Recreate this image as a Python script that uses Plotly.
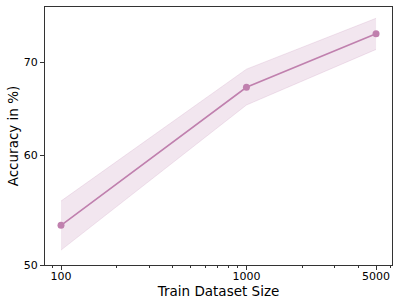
import plotly.graph_objects as go

sizes = [100, 1000, 5000]
acc_mean = [53.4, 67.15, 73.4]
acc_upper = [55.6, 69.2, 75.3]
acc_lower = [51.25, 65.2, 71.5]

x_ticks = [100, 1000, 5000]
x_tick_labels = ["100", "1000", "5000"]
y_ticks = [50, 60, 70]
y_tick_labels = ["50", "60", "70"]

color = "#c080ae"
fill = "rgba(192,128,174,0.2)"
font = "DejaVu Sans"

minor_x = [90] + [m * 100 for m in range(2, 10)] + [m * 1000 for m in range(2, 7) if m != 5]

fig = go.Figure()
fig.add_trace(go.Scatter(x=sizes, y=acc_upper, mode="lines", line=dict(width=0.8, color="rgba(192,128,174,0.25)"),
                         showlegend=False, hoverinfo="skip"))
fig.add_trace(go.Scatter(x=sizes, y=acc_lower, mode="lines", line=dict(width=0.8, color="rgba(192,128,174,0.25)"),
                         fill="tonexty", fillcolor=fill, showlegend=False, hoverinfo="skip"))
fig.add_trace(go.Scatter(x=sizes, y=acc_mean, mode="lines+markers",
                         line=dict(color=color, width=1.6),
                         marker=dict(color=color, size=7), showlegend=False))

fig.update_layout(
    width=399, height=307,
    margin=dict(l=45, r=7, t=7, b=42),
    paper_bgcolor="white", plot_bgcolor="white",
    font=dict(family=font, size=11, color="black"),
)
fig.update_xaxes(
    type="log", range=[1.9137, 3.785], automargin=False,
    tickmode="array", tickvals=x_ticks, ticktext=x_tick_labels,
    ticks="outside", ticklen=4, tickwidth=1, tickcolor="#333",
    ticklabelstandoff=-3,
    minor=dict(tickmode="array", tickvals=minor_x, ticks="outside", ticklen=2, tickwidth=0.8, tickcolor="#333"),
    showgrid=False, zeroline=False,
    showline=True, linecolor="#333", linewidth=1, mirror=True,
    tickfont=dict(size=11, family=font),
    title=dict(text="Train Dataset Size", font=dict(size=13.5, family=font), standoff=3),
)
fig.update_yaxes(
    type="log", range=[1.69897, 1.8849], automargin=False,
    tickmode="array", tickvals=y_ticks, ticktext=y_tick_labels,
    ticks="outside", ticklen=4, tickwidth=1, tickcolor="#333",
    showgrid=False, zeroline=False,
    showline=True, linecolor="#333", linewidth=1, mirror=True,
    tickfont=dict(size=11, family=font),
    title=dict(text="Accuracy in %)", font=dict(size=13.5, family=font), standoff=2),
)
fig.write_html("out.html", config={"displayModeBar": False},
               post_script="document.body.style.margin='0';document.body.style.overflow='hidden';")
